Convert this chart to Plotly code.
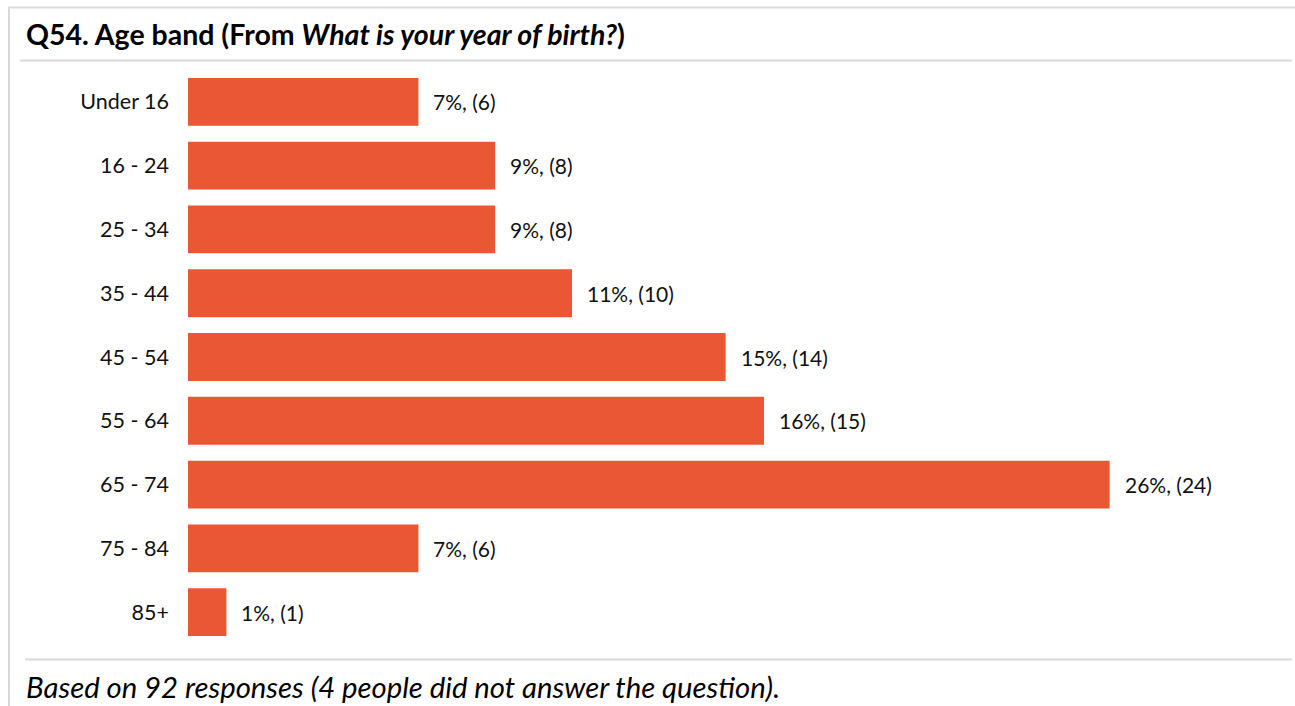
import plotly.graph_objects as go

# Age bands and response data
age_bands = ["Under 16", "16 - 24", "25 - 34", "35 - 44", "45 - 54",
             "55 - 64", "65 - 74", "75 - 84", "85+"]
counts = [6, 8, 8, 10, 14, 15, 24, 6, 1]
percents = [7, 9, 9, 11, 15, 16, 26, 7, 1]

title_text = "<b>Q54. Age band (From <i>What is your year of birth?</i>)</b>"
footer_text = "<i>Based on 92 responses (4 people did not answer the question).</i>"

labels = [f"{p}%, ({c})" for p, c in zip(percents, counts)]

FONT = "Lato"
BAR_COLOR = "#E95735"
LINE_COLOR = "#D9D9D9"

W, H = 1295, 706
ML, MR, MT, MB = 188, 3, 70, 62
PW = W - ML - MR
PH = H - MT - MB

fig = go.Figure(
    go.Bar(
        x=counts,
        y=age_bands,
        orientation="h",
        marker=dict(color=BAR_COLOR, line=dict(width=0)),
        hoverinfo="skip",
    )
)

# value labels placed just past the end of each bar
for band, c, lab in zip(age_bands, counts, labels):
    fig.add_annotation(
        x=c, y=band, text=lab, xref="x", yref="y",
        xanchor="left", yanchor="middle", xshift=13, showarrow=False,
        font=dict(family=FONT, size=21, color="#111111"),
    )

fig.update_layout(
    width=W,
    height=H,
    margin=dict(l=ML, r=MR, t=MT, b=MB),
    paper_bgcolor="white",
    plot_bgcolor="white",
    bargap=0.25,
    showlegend=False,
    xaxis=dict(range=[0, 28.75], visible=False, fixedrange=True),
    yaxis=dict(
        categoryorder="array",
        categoryarray=age_bands[::-1],
        showgrid=False,
        showline=False,
        ticks="",
        ticklabelstandoff=18,
        tickfont=dict(family=FONT, size=21.5, color="#111111"),
        fixedrange=True,
    ),
)


def add_line(x0, y0, x1, y1):
    # page pixel coordinates -> paper-relative coordinates
    fig.add_shape(
        type="line", xref="paper", yref="paper",
        x0=(x0 - ML) / PW, x1=(x1 - ML) / PW,
        y0=(H - MB - y0) / PH, y1=(H - MB - y1) / PH,
        line=dict(color=LINE_COLOR, width=2),
        layer="below",
    )


add_line(8, 7.5, 1295, 7.5)      # top border
add_line(9, 7, 9, 706)           # left border
add_line(20, 60.5, 1292, 60.5)   # under title
add_line(25, 659.5, 1292, 659.5) # above footer

fig.add_annotation(
    text=title_text, xref="paper", yref="paper",
    x=(24 - ML) / PW, y=(H - MB - 34) / PH,
    xanchor="left", yanchor="middle", showarrow=False,
    font=dict(family=FONT, size=28.5, color="#000000"),
)
fig.add_annotation(
    text=footer_text, xref="paper", yref="paper",
    x=(24 - ML) / PW, y=(H - MB - 686) / PH,
    xanchor="left", yanchor="middle", showarrow=False,
    font=dict(family=FONT, size=29.3, color="#000000"),
)

fig.write_html("out.html")
